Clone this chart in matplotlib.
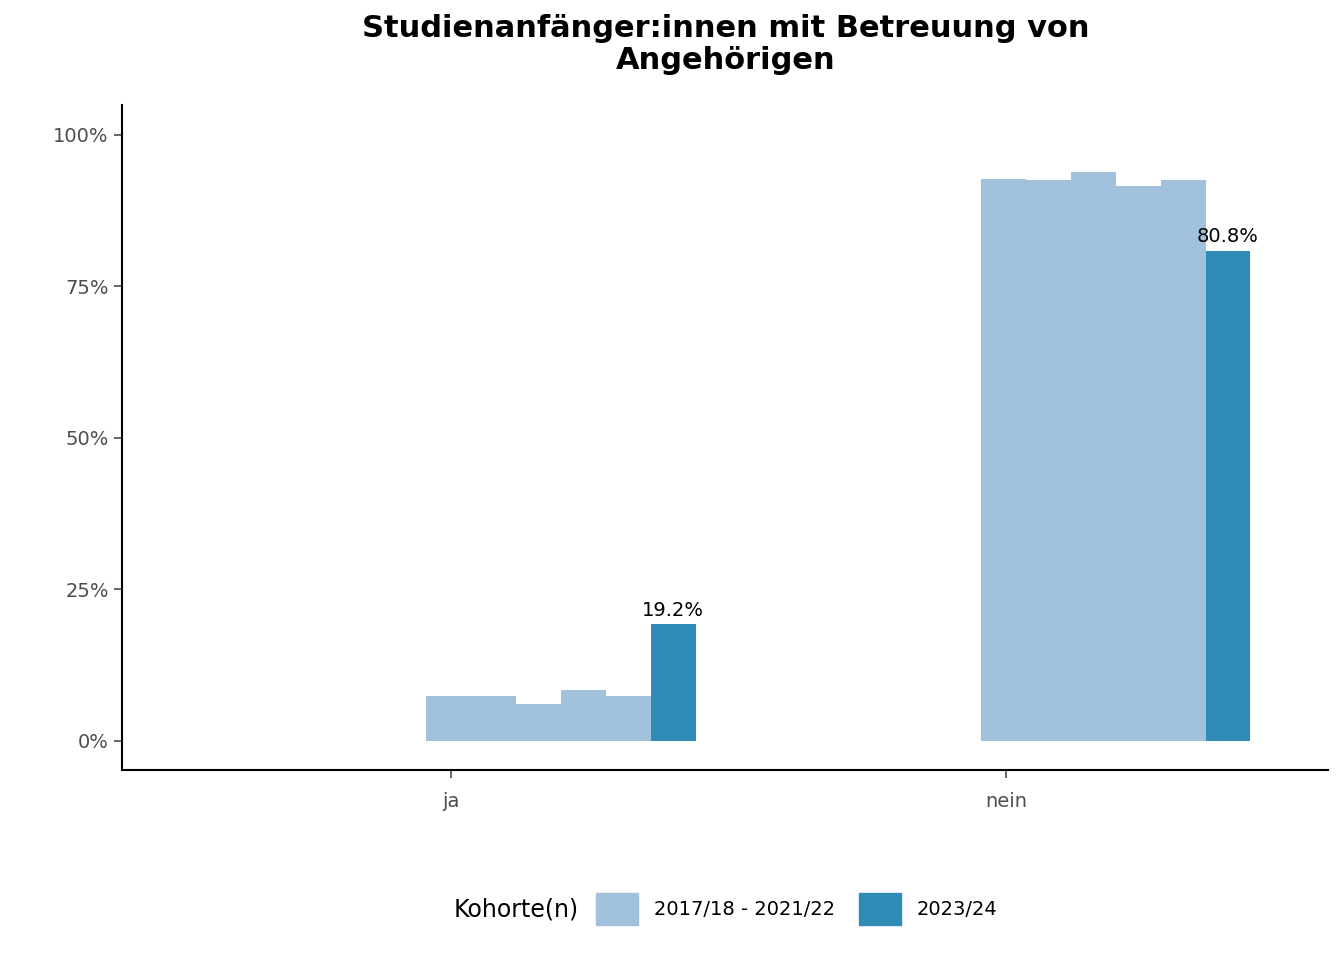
import matplotlib.pyplot as plt
from matplotlib.patches import Patch

# Data
categories = ['ja', 'nein']
old_cohorts = ['2017/18', '2018/19', '2019/20', '2020/21', '2021/22']
old_values = [[7.4, 7.4, 6.1, 8.4, 7.4],
              [92.7, 92.6, 93.9, 91.6, 92.6]]
new_values = [19.2, 80.8]
legend_labels = ['2017/18 - 2021/22', '2023/24']

light = '#a1c1dd'
dark = '#2e8bb8'
w = 0.081

fig = plt.figure(figsize=(13.44, 9.6), dpi=100)
ax = fig.add_axes([0.0908, 0.198, 0.897, 0.693])

for c in range(len(categories)):
    x0 = c + 1 - 0.045
    for i, v in enumerate(old_values[c]):
        ax.bar(x0 + w * i, v, width=w, color=light, align='edge')
    xn = x0 + w * len(old_values[c])
    ax.bar(xn, new_values[c], width=w, color=dark, align='edge')
    ax.text(xn + w / 2, new_values[c] + 0.8, f'{new_values[c]:.1f}%',
            ha='center', va='bottom', fontsize=14)

ax.set_xlim(0.407, 2.58)
ax.set_ylim(-4.8, 104.95)
ax.set_xticks([1, 2])
ax.set_xticklabels(categories)
ax.set_yticks([0, 25, 50, 75, 100])
ax.set_yticklabels(['0%', '25%', '50%', '75%', '100%'])
ax.tick_params(labelsize=14, colors='#4d4d4d', length=6, width=1.2)
ax.tick_params(axis='x', pad=10)
for s in ['top', 'right']:
    ax.spines[s].set_visible(False)
for s in ['left', 'bottom']:
    ax.spines[s].set_linewidth(1.5)

fig.suptitle('Studienanfänger:innen mit Betreuung von\nAngehörigen',
             x=0.54, y=0.985, fontsize=22, fontweight='bold', linespacing=1.1)

handles = [Patch(color=light), Patch(color=dark)]
fig.legend(handles, legend_labels, loc='center', bbox_to_anchor=(0.54, 0.053),
           ncol=2, frameon=False, fontsize=14, title='Kohorte(n)',
           title_fontsize=17, handlelength=2.2, handleheight=2.2,
           columnspacing=1.2, alignment='left')
leg = fig.legends[0]
leg._legend_box.align = 'left'
# put title to the left of entries
from matplotlib.offsetbox import HPacker
box = leg._legend_box
box._children = [HPacker(children=box._children, align='center', pad=0, sep=12)]

fig.savefig('out.png', dpi=100)
